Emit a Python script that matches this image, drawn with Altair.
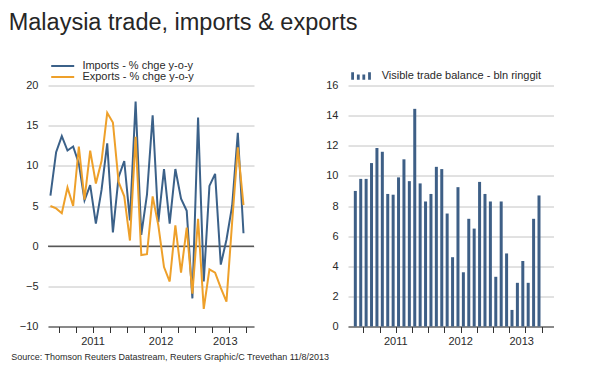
import altair as alt
import pandas as pd

# ---------------- data ----------------
months = ["2010-08", "2010-09", "2010-10", "2010-11", "2010-12",
          "2011-01", "2011-02", "2011-03", "2011-04", "2011-05", "2011-06",
          "2011-07", "2011-08", "2011-09", "2011-10", "2011-11", "2011-12",
          "2012-01", "2012-02", "2012-03", "2012-04", "2012-05", "2012-06",
          "2012-07", "2012-08", "2012-09", "2012-10", "2012-11", "2012-12",
          "2013-01", "2013-02", "2013-03", "2013-04", "2013-05", "2013-06"]

imports = [6.3, 11.7, 13.7, 11.9, 12.4, 10.3, 5.7, 7.6, 2.8, 7.0,
           12.8, 1.7, 8.6, 10.6, 3.2, 18.0, 1.4, 6.4, 16.3, 3.0,
           9.6, 2.8, 9.6, 5.9, 4.4, -6.5, 16.0, -4.4, 7.5, 9.0,
           -2.3, 0.8, 5.0, 14.1, 1.6]

exports = [5.0, 4.7, 4.1, 7.3, 5.0, 12.4, 5.8, 11.9, 7.8, 10.6,
           16.6, 15.4, 8.0, 6.2, 0.7, 13.6, -1.1, -1.0, 6.2, 2.6,
           -2.6, -4.4, 2.6, -3.3, 2.3, -5.9, 3.4, -7.8, -2.9, -3.3,
           -5.2, -6.9, 3.0, 12.3, 5.1]

balance = [9.0, 9.8, 9.8, 10.85, 11.85, 11.6, 8.8, 8.75, 9.9, 11.1,
           9.65, 14.45, 9.5, 8.3, 8.8, 10.6, 10.45, 7.5, 4.6, 9.25,
           3.6, 7.15, 6.5, 9.6, 8.8, 8.3, 3.3, 8.3, 4.85, 1.1,
           2.9, 4.35, 2.9, 7.15, 8.7]

imp_name = "Imports - % chge y-o-y"
exp_name = "Exports - % chge y-o-y"
bal_name = "Visible trade balance - bln ringgit"

# quarter tick positions (month index) and year label positions
quarter_ticks = [1.5, 4.5, 7.5, 10.5, 13.5, 16.5, 19.5, 22.5, 25.5, 28.5, 31.5, 34.5]
year_labels = ["2011", "2012", "2013"]
year_pos = [7.4, 19.4, 30.7]

left_y_ticks = [-10, -5, 0, 5, 10, 15, 20]
right_y_ticks = [0, 2, 4, 6, 8, 10, 12, 14, 16]

title_text = "Malaysia trade, imports & exports"
source_text = "Source: Thomson Reuters Datastream, Reuters Graphic/C Trevethan 11/8/2013"

# ---------------- tables ----------------
idx = list(range(len(months)))
line_df = pd.DataFrame({
    "idx": idx + idx,
    "month": months + months,
    "value": imports + exports,
    "series": [imp_name] * len(idx) + [exp_name] * len(idx),
})
bar_df = pd.DataFrame({"idx": idx, "month": months, "value": balance,
                       "series": [bal_name] * len(idx)})
zero_df = pd.DataFrame({"z": [0]})

# ---------------- style ----------------
BLUE = "#3b6189"
ORANGE = "#eea02a"
BAR = "#3e5f86"
GRID = "#c4c4c4"
TXT = "#2a2a2a"
FONT = "Liberation Sans"
W, H = 206, 241
x_dom = [-0.43, 35.85]

label_test = "indexof([" + ",".join(str(p) for p in year_pos) + "], datum.value) >= 0"
label_expr = " : ".join(
    f"datum.value == {p} ? '{t}'" for p, t in zip(year_pos, year_labels)
) + " : ''"


def x_axis(title=None):
    kw = dict(
        values=quarter_ticks + year_pos,
        labelExpr=label_expr,
        tickOpacity={"condition": {"test": label_test, "value": 0}, "value": 1},
        tickSize=6, tickColor="#333", tickWidth=1,
        domainColor="#333", domainWidth=1,
        grid=False, labelPadding=3, labelFontSize=11, labelColor=TXT,
        labelFont=FONT, labelFlush=False, labelOverlap=False,
    )
    if title:
        kw.update(title=title, titleX=-37.3, titleY=33, titleAlign="left",
                  titleBaseline="alphabetic", titleFontSize=9,
                  titleFontWeight="normal", titleColor=TXT, titleFont=FONT)
    else:
        kw.update(title=None)
    return alt.Axis(**kw)


def y_axis(values):
    return alt.Axis(values=values, grid=True, gridColor=GRID, gridWidth=1,
                    domain=False, ticks=False, labelPadding=10,
                    labelFontSize=11, labelColor=TXT, labelFont=FONT,
                    title=None)


xs = alt.Scale(domain=x_dom, nice=False, zero=False)

# ---------------- left panel ----------------
zero_rule = alt.Chart(zero_df).mark_rule(color="#111", strokeWidth=1).encode(
    y=alt.Y("z:Q", scale=alt.Scale(domain=[-10, 20], nice=False))
)

lines = alt.Chart(line_df).mark_line(strokeWidth=2).encode(
    x=alt.X("idx:Q", scale=xs, axis=x_axis(source_text)),
    y=alt.Y("value:Q", scale=alt.Scale(domain=[-10, 20], nice=False),
            axis=y_axis(left_y_ticks)),
    color=alt.Color(
        "series:N",
        scale=alt.Scale(domain=[imp_name, exp_name], range=[BLUE, ORANGE]),
        legend=alt.Legend(
            orient="none", legendX=9.2, legendY=-25, title=None,
            symbolType="M-11.5,0H11.5", symbolSize=4, symbolStrokeWidth=2,
            labelOffset=14.2, labelFontSize=11, labelColor=TXT, labelFont=FONT,
            rowPadding=-1, padding=0,
        ),
    ),
)

left = alt.layer(zero_rule, lines).properties(width=W, height=H)

# ---------------- right panel ----------------
bars = alt.Chart(bar_df).mark_bar(size=3).encode(
    x=alt.X("idx:Q", scale=xs, axis=x_axis()),
    y=alt.Y("value:Q", scale=alt.Scale(domain=[0, 16], nice=False),
            axis=y_axis(right_y_ticks)),
    color=alt.Color(
        "series:N",
        scale=alt.Scale(domain=[bal_name], range=[BAR]),
        legend=alt.Legend(
            orient="none", legendX=8, legendY=-15, title=None,
            symbolType=("M-10.3,-3.8h2.8v7.6h-2.8z M-4.6,-1.4h2.8v5.2h-2.8z "
                        "M0.9,-1.4h2.8v5.2h-2.8z M6.6,-3.8h2.8v7.6h-2.8z"),
            symbolSize=4, symbolStrokeWidth=0,
            labelOffset=14.7, labelFontSize=11, labelColor=TXT, labelFont=FONT,
            rowPadding=0, padding=0,
        ),
    ),
).properties(width=W, height=H)

chart = alt.hconcat(left, bars, spacing=94, bounds="flush").resolve_scale(
    color="independent"
).resolve_legend(color="independent").properties(
    title=alt.TitleParams(title_text, anchor="start", frame="group", dx=-39.3,
                          fontSize=23.5, font=FONT, fontWeight="normal",
                          color="#262626", offset=26.5),
    padding={"left": 0, "top": 2.5, "right": 0, "bottom": 0},
).configure(font=FONT, background="white").configure_view(stroke=None)

chart.save("out.html", embed_options={"renderer": "svg", "actions": False})
